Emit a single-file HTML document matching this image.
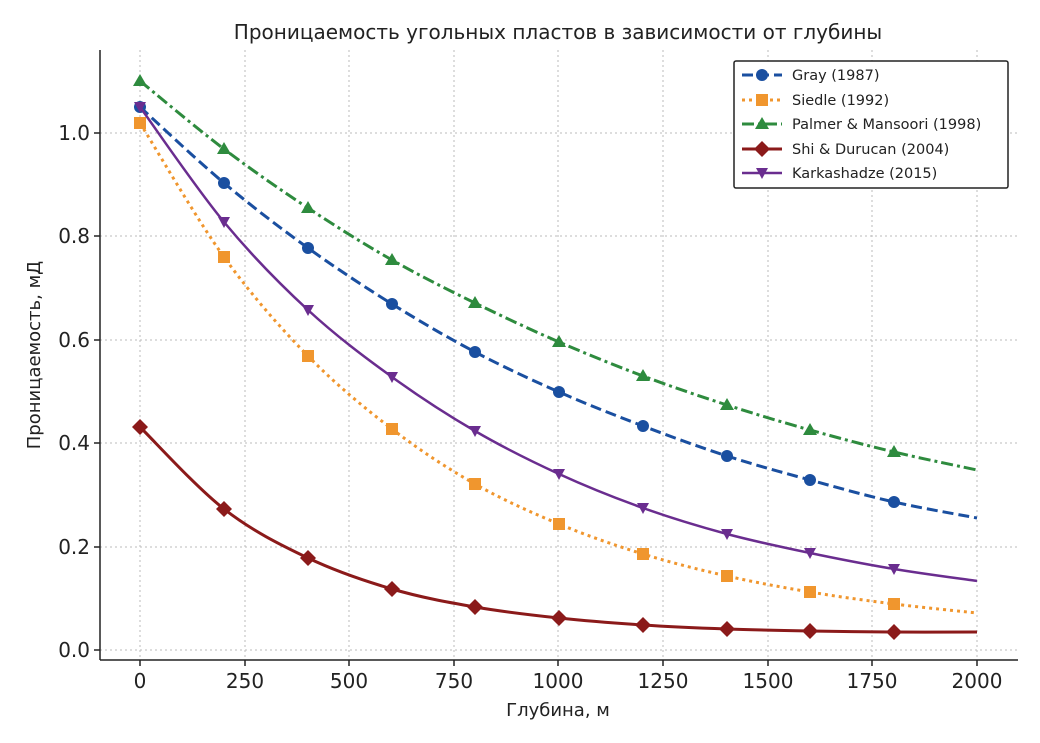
<!DOCTYPE html>
<html><head><meta charset="utf-8"><style>body{margin:0;background:#fff}svg{display:block}</style></head>
<body>
<svg id="s" width="1040" height="743" xmlns="http://www.w3.org/2000/svg" font-family="'DejaVu Sans','Liberation Sans',sans-serif">
<rect width="1040" height="743" fill="#fff"/>
<text x="558" y="39" text-anchor="middle" font-size="20" fill="#222">Проницаемость угольных пластов в зависимости от глубины</text>
<g stroke="#bbb" stroke-width="1" stroke-dasharray="2,3">
<line x1="140" y1="50" x2="140" y2="660"/><line x1="245" y1="50" x2="245" y2="660"/><line x1="349" y1="50" x2="349" y2="660"/><line x1="454" y1="50" x2="454" y2="660"/><line x1="558" y1="50" x2="558" y2="660"/><line x1="663" y1="50" x2="663" y2="660"/><line x1="768" y1="50" x2="768" y2="660"/><line x1="872" y1="50" x2="872" y2="660"/><line x1="977" y1="50" x2="977" y2="660"/>
<line x1="100" y1="650" x2="1018" y2="650"/><line x1="100" y1="547" x2="1018" y2="547"/><line x1="100" y1="443" x2="1018" y2="443"/><line x1="100" y1="340" x2="1018" y2="340"/><line x1="100" y1="236" x2="1018" y2="236"/><line x1="100" y1="133" x2="1018" y2="133"/>
</g>
<g stroke="#222" stroke-width="1.5">
<line x1="100" y1="50" x2="100" y2="660"/><line x1="100" y1="660" x2="1018" y2="660"/>
<line x1="140" y1="660" x2="140" y2="666"/><line x1="245" y1="660" x2="245" y2="666"/><line x1="349" y1="660" x2="349" y2="666"/><line x1="454" y1="660" x2="454" y2="666"/><line x1="558" y1="660" x2="558" y2="666"/><line x1="663" y1="660" x2="663" y2="666"/><line x1="768" y1="660" x2="768" y2="666"/><line x1="872" y1="660" x2="872" y2="666"/><line x1="977" y1="660" x2="977" y2="666"/>
<line x1="94" y1="650" x2="100" y2="650"/><line x1="94" y1="547" x2="100" y2="547"/><line x1="94" y1="443" x2="100" y2="443"/><line x1="94" y1="340" x2="100" y2="340"/><line x1="94" y1="236" x2="100" y2="236"/><line x1="94" y1="133" x2="100" y2="133"/>
</g>
<g font-size="20" fill="#222" text-anchor="middle">
<text x="140" y="688">0</text><text x="245" y="688">250</text><text x="349" y="688">500</text><text x="454" y="688">750</text><text x="558" y="688">1000</text><text x="663" y="688">1250</text><text x="768" y="688">1500</text><text x="872" y="688">1750</text><text x="977" y="688">2000</text>
</g>
<g font-size="20" fill="#222" text-anchor="end">
<text x="90" y="657">0.0</text><text x="90" y="554">0.2</text><text x="90" y="450">0.4</text><text x="90" y="347">0.6</text><text x="90" y="243">0.8</text><text x="90" y="140">1.0</text>
</g>
<text x="558" y="716" text-anchor="middle" font-size="18" fill="#222">Глубина, м</text>
<text transform="translate(40,355) rotate(-90)" text-anchor="middle" font-size="18" fill="#222">Проницаемость, мД</text>

<polyline class="sm" fill="none" stroke="#2e8b3e" stroke-width="3" stroke-dasharray="12,4,3,4" points="140,81 224,149 308,208 392,260 475,303 559,342 643,376 727,405 810,430 894,452 977,470"/>
<g fill="#2e8b3e"><path d="M140,74 l7,12 h-14z"/><path d="M224,142 l7,12 h-14z"/><path d="M308,201 l7,12 h-14z"/><path d="M392,253 l7,12 h-14z"/><path d="M475,296 l7,12 h-14z"/><path d="M559,335 l7,12 h-14z"/><path d="M643,369 l7,12 h-14z"/><path d="M727,398 l7,12 h-14z"/><path d="M810,423 l7,12 h-14z"/><path d="M894,445 l7,12 h-14z"/></g>
<polyline class="sm" fill="none" stroke="#1a4fa0" stroke-width="3" stroke-dasharray="11,5" points="140,107 224,183 308,248 392,304 475,352 559,392 643,426 727,456 810,480 894,502 977,518"/>
<g fill="#1a4fa0"><circle cx="140" cy="107" r="6"/><circle cx="224" cy="183" r="6"/><circle cx="308" cy="248" r="6"/><circle cx="392" cy="304" r="6"/><circle cx="475" cy="352" r="6"/><circle cx="559" cy="392" r="6"/><circle cx="643" cy="426" r="6"/><circle cx="727" cy="456" r="6"/><circle cx="810" cy="480" r="6"/><circle cx="894" cy="502" r="6"/></g>
<polyline class="sm" fill="none" stroke="#f0962e" stroke-width="3" stroke-dasharray="3,4" points="140,123 224,257 308,356 392,429 475,484 559,524 643,554 727,576 810,592 894,604 977,613"/>
<g fill="#f0962e"><rect x="134" y="117" width="12" height="12"/><rect x="218" y="251" width="12" height="12"/><rect x="302" y="350" width="12" height="12"/><rect x="386" y="423" width="12" height="12"/><rect x="469" y="478" width="12" height="12"/><rect x="553" y="518" width="12" height="12"/><rect x="637" y="548" width="12" height="12"/><rect x="721" y="570" width="12" height="12"/><rect x="804" y="586" width="12" height="12"/><rect x="888" y="598" width="12" height="12"/></g>
<polyline class="sm" fill="none" stroke="#6a2d8f" stroke-width="2.5" points="140,107 224,222 308,310 392,377 475,431 559,474 643,508 727,534 810,553 894,569 977,581"/>
<g fill="#6a2d8f"><path d="M134,102 h12 l-6,11z"/><path d="M218,217 h12 l-6,11z"/><path d="M302,305 h12 l-6,11z"/><path d="M386,372 h12 l-6,11z"/><path d="M469,426 h12 l-6,11z"/><path d="M553,469 h12 l-6,11z"/><path d="M637,503 h12 l-6,11z"/><path d="M721,529 h12 l-6,11z"/><path d="M804,548 h12 l-6,11z"/><path d="M888,564 h12 l-6,11z"/></g>
<polyline class="sm" fill="none" stroke="#8b1a1a" stroke-width="3" points="140,427 224,509 308,558 392,589 475,607 559,618 643,625 727,629 810,631 894,632 977,632"/>
<g fill="#8b1a1a"><path d="M140,419 l8,8 -8,8 -8,-8z"/><path d="M224,501 l8,8 -8,8 -8,-8z"/><path d="M308,550 l8,8 -8,8 -8,-8z"/><path d="M392,581 l8,8 -8,8 -8,-8z"/><path d="M475,599 l8,8 -8,8 -8,-8z"/><path d="M559,610 l8,8 -8,8 -8,-8z"/><path d="M643,617 l8,8 -8,8 -8,-8z"/><path d="M727,621 l8,8 -8,8 -8,-8z"/><path d="M810,623 l8,8 -8,8 -8,-8z"/><path d="M894,624 l8,8 -8,8 -8,-8z"/></g>

<rect x="734" y="61" width="274" height="127" fill="#fff" stroke="#222" stroke-width="1.5" rx="2"/>
<g font-size="14.5" fill="#222">
<line x1="742" y1="75" x2="782" y2="75" stroke="#1a4fa0" stroke-width="3" stroke-dasharray="11,5"/><circle cx="762" cy="75" r="6" fill="#1a4fa0"/><text x="792" y="80">Gray (1987)</text>
<line x1="742" y1="100" x2="782" y2="100" stroke="#f0962e" stroke-width="3" stroke-dasharray="3,4"/><rect x="756" y="94" width="12" height="12" fill="#f0962e"/><text x="792" y="105">Siedle (1992)</text>
<line x1="742" y1="124" x2="782" y2="124" stroke="#2e8b3e" stroke-width="3" stroke-dasharray="12,4,3,4"/><path d="M762,117 l7,12 h-14z" fill="#2e8b3e"/><text x="792" y="129">Palmer &amp; Mansoori (1998)</text>
<line x1="742" y1="149" x2="782" y2="149" stroke="#8b1a1a" stroke-width="3"/><path d="M762,141 l8,8 -8,8 -8,-8z" fill="#8b1a1a"/><text x="792" y="154">Shi &amp; Durucan (2004)</text>
<line x1="742" y1="173" x2="782" y2="173" stroke="#6a2d8f" stroke-width="2.5"/><path d="M756,168 h12 l-6,11z" fill="#6a2d8f"/><text x="792" y="178">Karkashadze (2015)</text>
</g>
</svg>
<script>
document.querySelectorAll('polyline.sm').forEach(function(pl){
  var p=pl.getAttribute('points').trim().split(/\s+/).map(function(s){return s.split(',').map(Number);});
  var d='M'+p[0][0]+','+p[0][1];
  for(var i=0;i<p.length-1;i++){
    var p0=p[i-1]||p[i],p1=p[i],p2=p[i+1],p3=p[i+2]||p2;
    var c1x=p1[0]+(p2[0]-p0[0])/6,c1y=p1[1]+(p2[1]-p0[1])/6;
    var c2x=p2[0]-(p3[0]-p1[0])/6,c2y=p2[1]-(p3[1]-p1[1])/6;
    d+=' C'+c1x+','+c1y+' '+c2x+','+c2y+' '+p2[0]+','+p2[1];
  }
  var path=document.createElementNS('http://www.w3.org/2000/svg','path');
  ['fill','stroke','stroke-width','stroke-dasharray'].forEach(function(a){if(pl.getAttribute(a))path.setAttribute(a,pl.getAttribute(a));});
  path.setAttribute('d',d);
  pl.parentNode.replaceChild(path,pl);
});
</script>
</body></html>
